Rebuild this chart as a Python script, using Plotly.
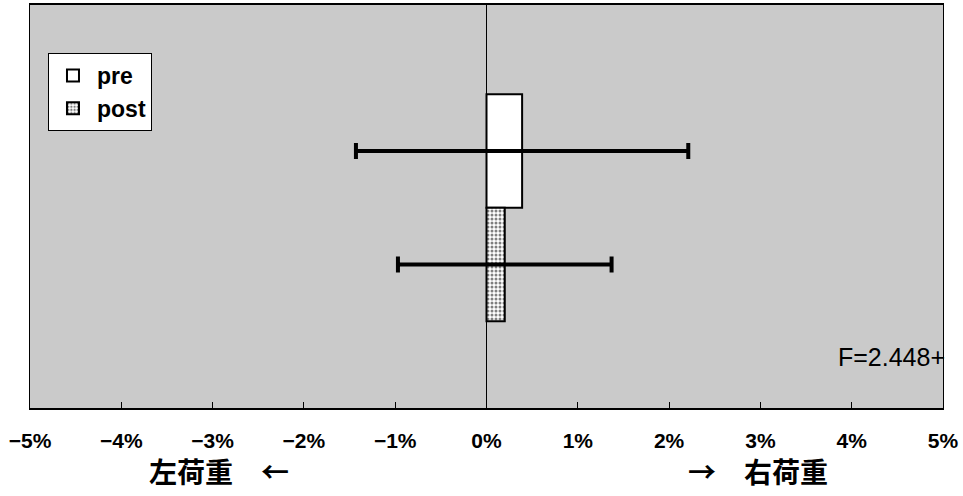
import plotly.graph_objects as go

categories = ["pre", "post"]
means = [0.39, 0.20]          # percent
errors = [1.82, 1.17]         # percent, symmetric
tick_vals = [-5, -4, -3, -2, -1, 0, 1, 2, 3, 4, 5]
tick_text = ["\u22125%", "\u22124%", "\u22123%", "\u22122%", "\u22121%", "0%", "1%", "2%", "3%", "4%", "5%"]
f_label = "F=2.448+"
left_label = "左荷重\u3000\u2190"
right_label = "\u2192\u3000右荷重"

fig = go.Figure()
fig.add_trace(go.Bar(
    name="pre", y=[categories[0]], x=[means[0]], orientation="h", width=1,
    marker=dict(color="white", line=dict(color="black", width=2)),
    error_x=dict(type="data", array=[errors[0]], color="black", thickness=4, width=8),
))
fig.add_trace(go.Bar(
    name="post", y=[categories[1]], x=[means[1]], orientation="h", width=1,
    marker=dict(color="white", line=dict(color="black", width=2),
                pattern=dict(shape=".", fgcolor="black", bgcolor="white", size=4, solidity=0.45)),
    error_x=dict(type="data", array=[errors[1]], color="black", thickness=4, width=8),
))

fig.update_layout(
    width=963, height=496,
    margin=dict(l=30, r=20, t=5, b=88, autoexpand=False),
    paper_bgcolor="white",
    plot_bgcolor="#cacaca",
    barmode="overlay",
    showlegend=True,
    legend=dict(x=0.0197, y=0.881, xanchor="left", yanchor="top",
                bgcolor="white", bordercolor="black", borderwidth=1,
                font=dict(family="Liberation Sans, Arial", size=23, color="black", weight="bold"),
                itemwidth=38, tracegroupgap=6),
    font=dict(family="Liberation Sans", color="black"),
)
fig.update_xaxes(
    range=[-5, 5], tickvals=tick_vals, ticktext=tick_text, automargin=False,
    ticks="inside", ticklen=6, tickcolor="black", tickwidth=1,
    showgrid=False, zeroline=True, zerolinecolor="black", zerolinewidth=1,
    showline=True, linecolor="black", linewidth=1.5, mirror=True,
    tickfont=dict(family="Liberation Sans", size=21, color="black", weight="bold"),
    ticklabelstandoff=13,
)
fig.update_yaxes(
    type="category", categoryorder="array", categoryarray=["post", "pre"],
    range=[-1.264, 2.286], showticklabels=False, ticks="", automargin=False,
    showgrid=False, zeroline=False,
    showline=True, linecolor="black", linewidth=1, mirror=True,
)
fig.add_annotation(text=f_label, xref="paper", yref="paper", x=1.004, y=0.127,
                   xanchor="right", yanchor="middle", showarrow=False,
                   font=dict(family="Liberation Sans", size=25, color="black"))
fig.add_annotation(text=left_label, xref="x", yref="paper", x=-2.93, y=-0.156,
                   xanchor="center", yanchor="middle", showarrow=False,
                   font=dict(family="Noto Sans CJK JP", size=28, color="black", weight="bold"))
fig.add_annotation(text=right_label, xref="x", yref="paper", x=2.97, y=-0.156,
                   xanchor="center", yanchor="middle", showarrow=False,
                   font=dict(family="Noto Sans CJK JP", size=28, color="black", weight="bold"))

fig.write_html("out.html", config={"displayModeBar": False},
               post_script="document.body.style.margin='0px';")
